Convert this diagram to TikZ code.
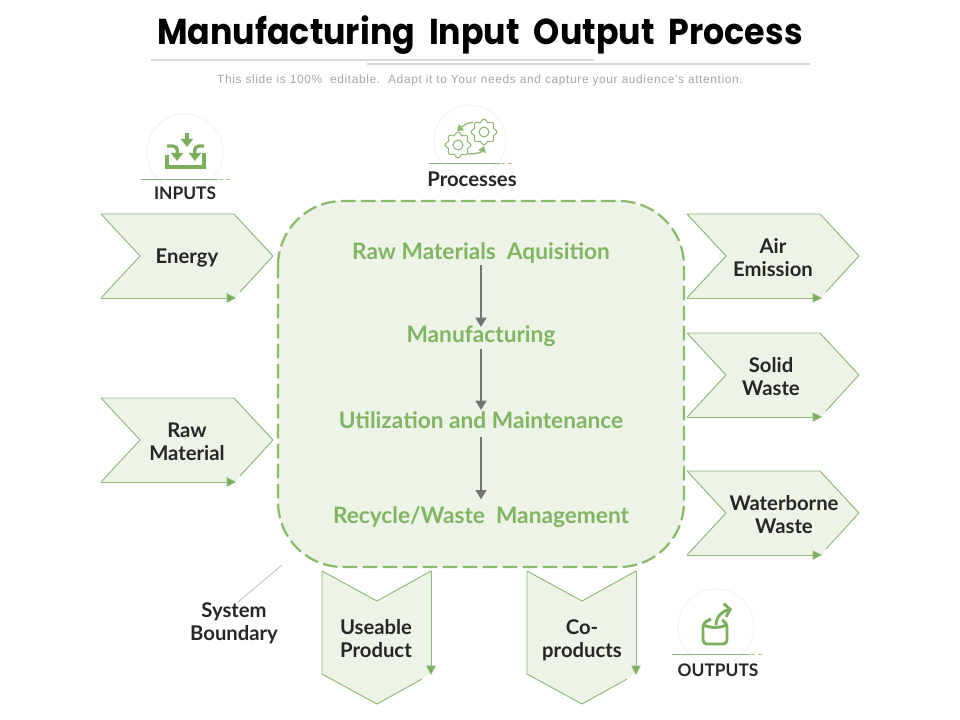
\documentclass[tikz,border=0pt]{standalone}
\usepackage{fontspec}
\setmainfont{Lato}
\newfontfamily\titlefont{Poppins}
\newfontfamily\subfont[LetterSpace=5]{Liberation Sans}
\usetikzlibrary{arrows.meta}
\definecolor{gfill}{HTML}{EDF3E6}
\definecolor{gline}{HTML}{8DB878}
\definecolor{gbox}{HTML}{8ABB6A}
\definecolor{gdark}{HTML}{7CAF5C}
\definecolor{gtext}{HTML}{80B562}
\definecolor{ink}{HTML}{262626}
\tikzset{
  x=0.75pt,y=-0.75pt,
  shapefill/.style={fill=gfill,draw=none},
  shapeline/.style={draw=gline,line width=0.7pt,line join=round},
  tipline/.style={draw=gline,line width=0.7pt,-{Triangle[length=7pt,width=7pt,fill=gdark]}},
  lbl/.style={font=\fontsize{15.2}{17.2}\selectfont\bfseries,text=ink,align=center,inner sep=0pt},
  caplbl/.style={font=\fontsize{13}{16}\selectfont\bfseries,text=ink,align=center,inner sep=0pt},
  steplbl/.style={font=\fontsize{17}{20}\selectfont\bfseries,text=gtext,align=center,inner sep=0pt,anchor=base},
  flow/.style={draw=black!55,line width=1.9pt,-{Triangle[length=7pt,width=8pt]}},
  ring/.style={draw=black!5,line width=0.7pt,fill=white},
  rule/.style={draw=gline,line width=0.6pt},
  ruledash/.style={draw=gline!80,line width=0.6pt,dash pattern=on 3pt off 2.5pt},
  icon/.style={draw=gdark,line width=2.5pt},
  iconthin/.style={draw=gdark!85,line width=0.8pt},
}
\newcommand{\rightchev}[2]{% left x, top y
  \fill[shapefill] (#1,#2) -- ++(133,0) -- ++(39,42) -- ++(-33,36) -- ++(-4,6) -- ++(-135,0) -- ++(39,-42) -- cycle;
  \draw[shapeline] (#1+139,#2+78) -- (#1+172,#2+42) -- (#1+133,#2) -- (#1,#2) -- (#1+39,#2+42) -- (#1,#2+84);
  \draw[tipline] (#1,#2+84) -- (#1+135,#2+84);
}
\newcommand{\downchev}[1]{% left x
  \fill[shapefill] (#1,571) -- (#1+55,601) -- (#1+109,571) -- (#1+109,673) -- (#1+100,679) -- (#1+55,704) -- (#1,674) -- cycle;
  \draw[shapeline] (#1+100,679) -- (#1+55,704) -- (#1,674) -- (#1,571) -- (#1+55,601) -- (#1+109,571);
  \draw[tipline] (#1+109,571) -- (#1+109,675);
}
\newcommand{\gearat}[3]{% x, y, radius
  \draw[iconthin,line join=round] plot[smooth cycle,samples=64,domain=0:354.375]
    ({#1+(#3+1.4*cos(8*\x))*cos(\x)},{#2+(#3+1.4*cos(8*\x))*sin(\x)});
  \draw[iconthin] (#1,#2) circle[radius=5];
}
\begin{document}
\begin{tikzpicture}
\useasboundingbox (0,0) rectangle (960,720);
% heading
\node[font=\titlefont\fontsize{27}{32}\selectfont\bfseries,text=black,inner sep=0pt] (title) at (480,35) {\scalebox{0.924}[1]{Manufacturing\ \ Input\ \ Output\ \ Process}};
\draw[draw=black!15,line width=1pt] (151,60) -- (594,60);
\draw[draw=black!15,line width=1pt] (367,64) -- (810,64);
\node[font=\subfont\fontsize{9}{11}\selectfont,text=black!35,inner sep=0pt] (subtitle) at (480,80) {This slide is 100\%\ \ editable.\ \ Adapt it to Your needs and capture your audience's attention.};
% system boundary
\draw[shapefill,draw=gbox,line width=1.7pt,dash pattern=on 11pt off 4pt] (278,266) arc[start angle=180,end angle=270,radius=65] -- (619,201) arc[start angle=270,end angle=360,radius=65] -- (684,502) arc[start angle=0,end angle=90,radius=65] -- (343,567) arc[start angle=90,end angle=180,radius=65] -- cycle;
\node[steplbl] (s1) at (481,259.5) {Raw Materials\ \ Aquisition};
\node[steplbl] (s2) at (481,342) {Manufacturing};
\node[steplbl] (s3) at (481,428) {Utilization and Maintenance};
\node[steplbl] (s4) at (481,523) {Recycle/Waste\ \ Management};
\draw[flow,shorten <=4.5pt,shorten >=11.25pt] (s1.base) -- (s2.base);
\draw[flow,shorten <=5.25pt,shorten >=13.5pt] (s2.base) -- (s3.base);
\draw[flow,shorten <=6.75pt,shorten >=17.75pt] (s3.base) -- (s4.base);
% chevrons
\rightchev{101}{214}
\rightchev{101}{398}
\rightchev{687}{214}
\rightchev{687}{333}
\rightchev{687}{471}
\downchev{322}
\downchev{527}
\node[lbl] (energy) at (187,258) {Energy};
\node[lbl] (rawm) at (187,441.5) {Raw\\Material};
\node[lbl] (air) at (773,257.5) {Air\\Emission};
\node[lbl] (solid) at (771,376.5) {Solid\\Waste};
\node[lbl] (water) at (784,514.5) {Waterborne\\Waste};
\node[lbl] (useable) at (376,638.5) {Useable\\Product};
\node[lbl] (coprod) at (582,640) {Co-\\products};
\node[lbl] (sysb) at (234,623) {System\\Boundary};
\coordinate (sysend) at (282,565);
\draw[draw=black!25,line width=0.6pt] (sysend) -- (238,602);
% inputs
\draw[ring] (185,152) circle[radius=38];
\draw[rule] (141,179) -- (218,179);
\draw[ruledash] (219,179) -- (233,179);
\node[caplbl] (inputs) at (185,193) {INPUTS};
\draw[icon] (167,155) -- (167,167) -- (204,167) -- (204,153);
\draw[icon,-{Triangle[length=6pt,width=9pt]}] (187,133) -- (187,147);
\draw[icon,-{Triangle[length=6pt,width=9pt]}] (167,146) -- (173,146) to[out=0,in=90] (177,161);
\draw[icon,-{Triangle[length=6pt,width=9pt]}] (204,146) -- (199,146) to[out=180,in=90] (195,161);
% processes
\draw[ring] (470,141) circle[radius=36];
\draw[rule] (429,163) -- (500,163);
\draw[ruledash] (501,163) -- (515,163);
\node[lbl] (proc) at (472,179) {Processes};
\gearat{458}{145}{11.5}
\gearat{484}{132}{11.5}
\draw[iconthin,line width=1pt,-{Triangle[length=4.5pt,width=6pt]}] (473,122) to[out=190,in=40] (457,131);
\draw[iconthin,line width=1pt,-{Triangle[length=4.5pt,width=6pt]}] (468,154) to[out=0,in=250] (484,146);
% outputs
\draw[ring] (716,627) circle[radius=38];
\draw[rule] (672,654) -- (750,654);
\draw[ruledash] (751,654) -- (765,654);
\node[caplbl] (outputs) at (718,670) {OUTPUTS};
\draw[icon,line width=2.2pt,rounded corners=3pt] (711,619) -- (703,623) -- (703,644) -- (727,644) -- (727,623) -- (722,620);
\draw[icon,line width=2.2pt] (703,625) to[out=-20,in=200] (727,625);
\draw[icon,line width=2.2pt,-{Straight Barb[length=4pt,width=10pt]}] (716,625) to[out=90,in=190] (732,609);
\end{tikzpicture}
\end{document}
